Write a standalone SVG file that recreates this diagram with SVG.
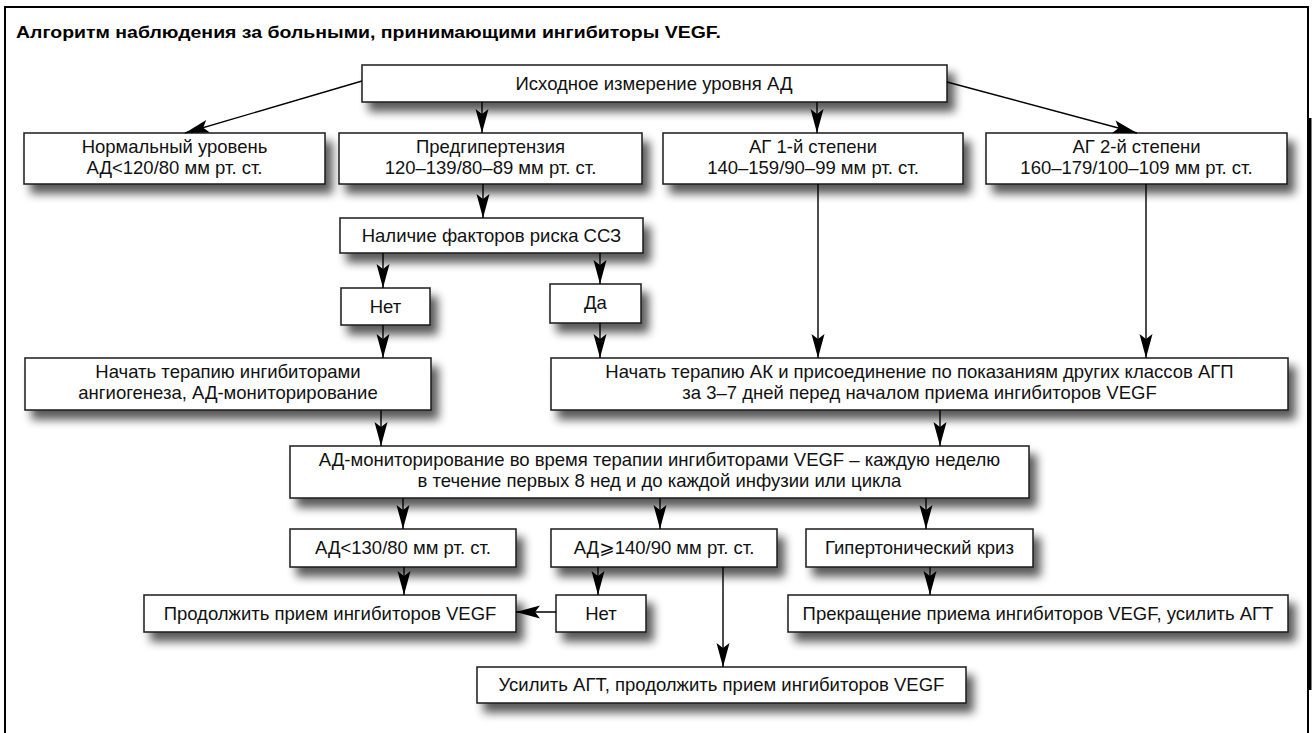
<svg xmlns="http://www.w3.org/2000/svg" width="1314" height="733" viewBox="0 0 1314 733">
<defs>
<filter id="sh" x="-10%" y="-40%" width="130%" height="200%">
<feGaussianBlur in="SourceAlpha" stdDeviation="5"/>
<feOffset dx="7" dy="9" result="b"/>
<feComponentTransfer><feFuncA type="linear" slope="0.65"/></feComponentTransfer>
<feMerge><feMergeNode/><feMergeNode in="SourceGraphic"/></feMerge>
</filter>
<marker id="ah" markerUnits="userSpaceOnUse" markerWidth="26" markerHeight="16" viewBox="-25 -8 26 16" refX="0" refY="0" orient="auto">
<path d="M0,0 L-24,-6.5 L-19,0 L-24,6.5 Z" fill="#000"/>
</marker>
</defs>
<style>
.box rect{fill:#fff;stroke:#1a1a1a;stroke-width:1.5;filter:url(#sh)}
.box text{font-family:"Liberation Sans",Arial,"DejaVu Sans",sans-serif;font-size:18.5px;fill:#111;text-anchor:middle}
.cn path{fill:none;stroke:#000;stroke-width:1.4;marker-end:url(#ah)}
.title{font-family:"Liberation Sans",Arial,sans-serif;font-weight:bold;font-size:17px;fill:#000}
</style>
<rect width="1314" height="733" fill="#fff"/>
<rect x="5" y="7" width="1303" height="740" fill="none" stroke="#000" stroke-width="2"/>
<line x1="1310" y1="118" x2="1310" y2="690" stroke="#000" stroke-width="3"/>
<text class="title" x="16" y="38" textLength="705" lengthAdjust="spacingAndGlyphs">Алгоритм наблюдения за больными, принимающими ингибиторы VEGF.</text>

<g id="nA" class="box"><rect x="362" y="65" width="585" height="37"/><text x="654" y="90">Исходное измерение уровня АД</text></g>
<g id="nB1" class="box"><rect x="24" y="133" width="301" height="51"/><text x="174.5" y="153">Нормальный уровень</text><text x="174.5" y="174">АД&lt;120/80 мм рт. ст.</text></g>
<g id="nB2" class="box"><rect x="339" y="133" width="303" height="51"/><text x="490.5" y="153">Предгипертензия</text><text x="490.5" y="174">120–139/80–89 мм рт. ст.</text></g>
<g id="nB3" class="box"><rect x="663" y="133" width="300" height="51"/><text x="813" y="153">АГ 1-й степени</text><text x="813" y="174">140–159/90–99 мм рт. ст.</text></g>
<g id="nB4" class="box"><rect x="986" y="133" width="301" height="51"/><text x="1136.5" y="153">АГ 2-й степени</text><text x="1136.5" y="174">160–179/100–109 мм рт. ст.</text></g>
<g id="nC" class="box"><rect x="340" y="218" width="303" height="35"/><text x="491.5" y="242">Наличие факторов риска ССЗ</text></g>
<g id="nNo1" class="box"><rect x="341" y="288" width="89" height="37"/><text x="385.5" y="313">Нет</text></g>
<g id="nYes" class="box"><rect x="550" y="284" width="91" height="39"/><text x="595.5" y="309">Да</text></g>
<g id="nD1" class="box"><rect x="25" y="358" width="406" height="52"/><text x="228" y="378">Начать терапию ингибиторами</text><text x="228" y="399">ангиогенеза, АД-мониторирование</text></g>
<g id="nD2" class="box"><rect x="551" y="358" width="737" height="52"/><text x="919.5" y="378">Начать терапию АК и присоединение по показаниям других классов АГП</text><text x="919.5" y="399">за 3–7 дней перед началом приема ингибиторов VEGF</text></g>
<g id="nE" class="box"><rect x="290" y="446" width="739" height="52"/><text x="659.5" y="466">АД-мониторирование во время терапии ингибиторами VEGF – каждую неделю</text><text x="659.5" y="487">в течение первых 8 нед и до каждой инфузии или цикла</text></g>
<g id="nF1" class="box"><rect x="290" y="529" width="226" height="38"/><text x="403" y="554">АД&lt;130/80 мм рт. ст.</text></g>
<g id="nF2" class="box"><rect x="551" y="529" width="226" height="38"/><text x="664" y="554">АД⩾140/90 мм рт. ст.</text></g>
<g id="nF3" class="box"><rect x="806" y="529" width="227" height="38"/><text x="919.5" y="554">Гипертонический криз</text></g>
<g id="nG1" class="box"><rect x="144" y="595" width="372" height="37"/><text x="330" y="620">Продолжить прием ингибиторов VEGF</text></g>
<g id="nNo2" class="box"><rect x="556" y="595" width="90" height="37"/><text x="601" y="620">Нет</text></g>
<g id="nG3" class="box"><rect x="788" y="595" width="500" height="37"/><text x="1038" y="620">Прекращение приема ингибиторов VEGF, усилить АГТ</text></g>
<g id="nH" class="box"><rect x="477" y="667" width="489" height="36"/><text x="721.5" y="691">Усилить АГТ, продолжить прием ингибиторов VEGF</text></g>

<g id="connectors" class="cn">
<path d="M362,81 L185,133"/>
<path d="M482,102 V133"/>
<path d="M817,102 V133"/>
<path d="M947,82 L1137,133"/>
<path d="M483,184 V218"/>
<path d="M383,253 V288"/>
<path d="M600,253 V284"/>
<path d="M383,325 V358"/>
<path d="M600,323 V358"/>
<path d="M818,184 V358"/>
<path d="M1146,184 V358"/>
<path d="M381,410 V446"/>
<path d="M940,410 V446"/>
<path d="M403,498 V529"/>
<path d="M660,498 V529"/>
<path d="M926,498 V529"/>
<path d="M404,567 V595"/>
<path d="M598,567 V595"/>
<path d="M930,567 V595"/>
<path d="M556,612 H516"/>
<path d="M723,567 V667"/>
</g>
</svg>
